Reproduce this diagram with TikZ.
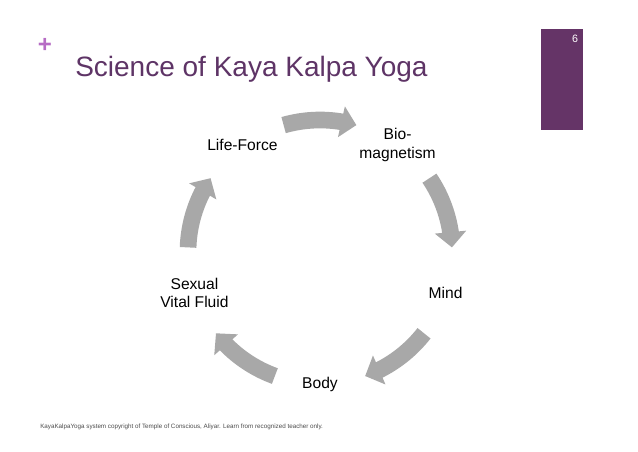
\documentclass[tikz,border=0pt]{standalone}
\usepackage{fontspec}
\setmainfont{Liberation Sans}
\usepackage{tikz}
\usetikzlibrary{arrows.meta,bending,positioning,calc}
\usepackage{xcolor}
\definecolor{kkpurple}{RGB}{101,52,103}
\definecolor{kktitle}{RGB}{94,52,102}
\definecolor{kkplus}{RGB}{182,108,196}
\definecolor{kkgray}{RGB}{168,168,168}

\begin{document}
\begin{tikzpicture}[x=0.75pt,y=0.75pt,
    lbl/.style={font=\fontsize{11.7}{14}\selectfont,align=center},
    cyc/.style={line width=12.5pt,draw=kkgray,-{Triangle[width=23pt,length=11.5pt]}},
  ]
    \useasboundingbox[fill=white] (0,0) rectangle (638,-451);
    % slide frame
    \fill[kkpurple] (541,-29) rectangle (583,-130);
    \node[text=white,font=\fontsize{8}{9}\selectfont] (num) at (575,-39) {6};
    \node[text=kkplus,font=\fontsize{18}{18}\selectfont\bfseries] (plus) at (45,-45) {+};
    \node[anchor=base west,inner sep=0pt,text=kktitle,font=\fontsize{21}{24}\selectfont] (title) at (75,-76) {Science of Kaya Kalpa Yoga};
    % cycle
    \coordinate (c) at (320,-252);
    \node[lbl] (lf) at ($(c)+(126:132)$) {Life-Force};
    \node[lbl] (bio) at ($(c)+(54:132)$) {Bio-\\magnetism};
    \node[lbl] (mind) at ($(c)+(-18:132)$) {Mind};
    \node[lbl] (body) at ($(c)+(-90:132)$) {Body};
    \node[lbl] (sex) at ($(c)+(198:132)$) {Sexual\\Vital Fluid};
    \draw[cyc] ($(c)+(106:132)$) arc[start angle=106,end angle=74,radius=99pt];
    \draw[cyc] ($(c)+(34:132)$) arc[start angle=34,end angle=2,radius=99pt];
    \draw[cyc] ($(c)+(-38:132)$) arc[start angle=-38,end angle=-70,radius=99pt];
    \draw[cyc] ($(c)+(-110:132)$) arc[start angle=-110,end angle=-142,radius=99pt];
    \draw[cyc] ($(c)+(178:132)$) arc[start angle=178,end angle=146,radius=99pt];
    % footer
    \node[anchor=base west,inner sep=0pt,text=black!70,font=\fontsize{4.7}{5.5}\selectfont] (foot) at (40,-428)
      {KayaKalpaYoga system copyright of Temple of Conscious, Aliyar. Learn from recognized teacher only.};
  \end{tikzpicture}
\end{document}
